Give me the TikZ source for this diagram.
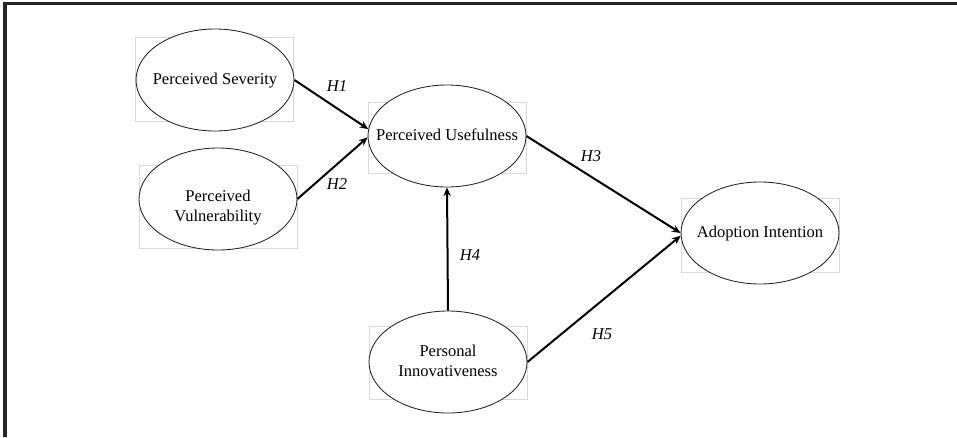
\documentclass[tikz,border=0pt]{standalone}
\usepackage{fontspec}
\setmainfont{Liberation Serif}
\usepackage{tikz}
\usetikzlibrary{arrows.meta}
\usetikzlibrary{shapes.geometric}
\newcommand{\clabel}[1]{\makebox[0pt]{\begin{tabular}{@{}c@{}}#1\end{tabular}}}

\begin{document}
\begin{tikzpicture}[x=0.75pt,y=-0.75pt,
        construct/.style={ellipse, draw=black!85, line width=0.65pt, fill=white,
            minimum width=118.5pt, minimum height=76.5pt, inner sep=0pt,
            font=\fontsize{12.4}{15}\selectfont},
        bgbox/.style={draw=black!15, line width=0.5pt},
        link/.style={line width=1.5pt, -{Stealth[length=6.5pt,width=5.5pt]}},
        hyp/.style={font=\fontsize{12.4}{15}\selectfont\itshape}]
                \useasboundingbox (0,0) rectangle (957,437);
                % border, top and left
                \draw[line width=2.6pt, black!85] (5,437) -- (5,3.7) -- (957,3.7);
                % faint boxes behind the ellipses
                \draw[bgbox] (135,37) rectangle (293,121);
                \draw[bgbox] (139,165) rectangle (297,248);
                \draw[bgbox] (368,102) rectangle (526,173);
                \draw[bgbox] (681,198) rectangle (839,272);
                \draw[bgbox] (369,326) rectangle (527,399);
                % constructs
                \node[construct] (sev) at (215,80) {\clabel{Perceived Severity}};
                \node[construct] (vul) at (218,199) {\raisebox{-9pt}[0pt][0pt]{\clabel{Perceived\\Vulnerability}}};
                \node[construct] (use) at (447,136) {\clabel{Perceived Usefulness}};
                \node[construct] (adopt) at (760,233) {\clabel{Adoption Intention}};
                \node[construct] (innov) at (448,362) {\clabel{Personal\\Innovativeness}};
                % hypotheses
                \draw[link] (sev.east) -- (use.175);
                \draw[link] (vul.east) -- (use.181);
                \draw[link] (use.east) -- (adopt.west);
                \draw[link] (innov.north) -- (use.south);
                \draw[link] (innov.east) -- (adopt.182);
                \node[hyp] (h1) at (337,86) {H1};
                \node[hyp] (h2) at (337,184) {H2};
                \node[hyp] (h3) at (591,156) {H3};
                \node[hyp] (h4) at (470,255) {H4};
                \node[hyp] (h5) at (602,334) {H5};
            \end{tikzpicture}
\end{document}
